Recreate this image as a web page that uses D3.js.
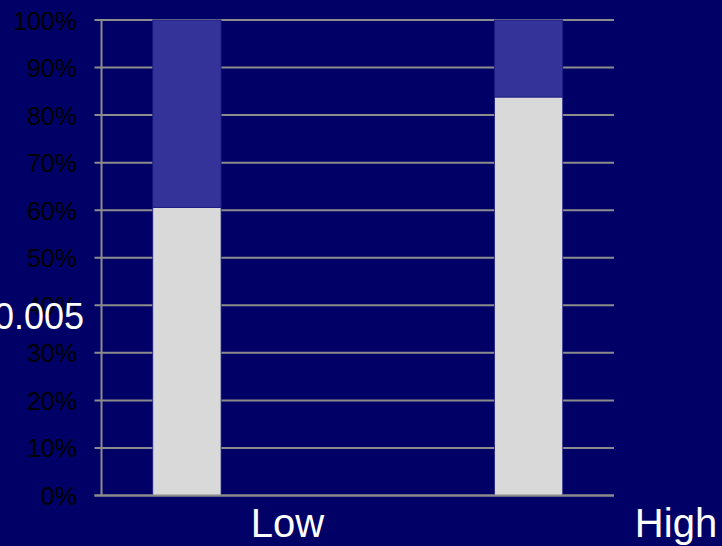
<!DOCTYPE html>
<html>
<head>
<meta charset="utf-8">
<script src="https://cdn.jsdelivr.net/npm/d3@7"></script>
<style>
  html, body { margin: 0; padding: 0; background: #000066; }
  svg { display: block; }
  text { font-family: "Liberation Sans", Arial, Helvetica, sans-serif; }
</style>
</head>
<body>
<svg id="chart" width="722" height="546"></svg>
<script>
// Share of each group (percent), stacked to 100%
const categories = ["Low", "High"];
const lowerShare = [60.6, 83.8];
const upperShare = [39.4, 16.2];
const yTicks = [0, 10, 20, 30, 40, 50, 60, 70, 80, 90, 100];
const sideLabel = "0.005";

const svg = d3.select("#chart");
const W = 722, H = 546;

const plot = { left: 101.5, right: 614, top: 20, bottom: 495.5 };

svg.append("rect").attr("width", W).attr("height", H).attr("fill", "#000066");

const y = d3.scaleLinear().domain([0, 100]).range([plot.bottom, plot.top]);
const x = d3.scaleBand().domain(categories)
  .range([plot.left, plot.right])
  .paddingInner(0.8)
  .paddingOuter(0.15);
const xLabel = d3.scalePoint().domain(categories).range([287.5, 676]);

// Horizontal gridlines with short ticks to the left of the axis
const grid = svg.append("g");
grid.selectAll("line").data(yTicks).join("line")
  .attr("x1", plot.left - 7).attr("x2", plot.right)
  .attr("y1", d => y(d)).attr("y2", d => y(d))
  .attr("stroke", "#8c8c8c").attr("stroke-width", 2);

// Y-axis labels
svg.append("g").selectAll("text").data(yTicks).join("text")
  .attr("x", 77).attr("y", d => y(d))
  .attr("dy", "0.38em")
  .attr("text-anchor", "end")
  .attr("font-size", 25)
  .attr("fill", "#000000")
  .text(d => d + "%");

// Stacked bars
const rows = categories.map((c, i) => ({ cat: c, lower: lowerShare[i], upper: upperShare[i] }));
const stack = d3.stack().keys(["lower", "upper"])(rows);
const colors = { lower: "#d9d9d9", upper: "#333399" };

svg.append("g").selectAll("g").data(stack).join("g")
  .attr("fill", d => colors[d.key])
  .selectAll("rect").data(d => d).join("rect")
  .attr("x", d => x(d.data.cat))
  .attr("width", x.bandwidth())
  .attr("y", d => y(d[1]))
  .attr("height", d => y(d[0]) - y(d[1]))
  .attr("stroke", "#1a1a80").attr("stroke-width", 0.8);

// Vertical axis line and baseline
svg.append("line")
  .attr("x1", plot.left).attr("x2", plot.left)
  .attr("y1", plot.top).attr("y2", plot.bottom)
  .attr("stroke", "#8c8c8c").attr("stroke-width", 2);
svg.append("line")
  .attr("x1", plot.left - 7).attr("x2", plot.right)
  .attr("y1", plot.bottom).attr("y2", plot.bottom)
  .attr("stroke", "#8c8c8c").attr("stroke-width", 2);

// Category labels
svg.append("g").selectAll("text").data(categories).join("text")
  .attr("x", d => xLabel(d)).attr("y", 537)
  .attr("text-anchor", "middle")
  .attr("font-size", 40)
  .attr("fill", "#ffffff")
  .text(d => d);

// Side label
svg.append("text")
  .attr("x", 84).attr("y", 329)
  .attr("text-anchor", "end")
  .attr("font-size", 36)
  .attr("fill", "#ffffff")
  .text(sideLabel);
</script>
</body>
</html>
